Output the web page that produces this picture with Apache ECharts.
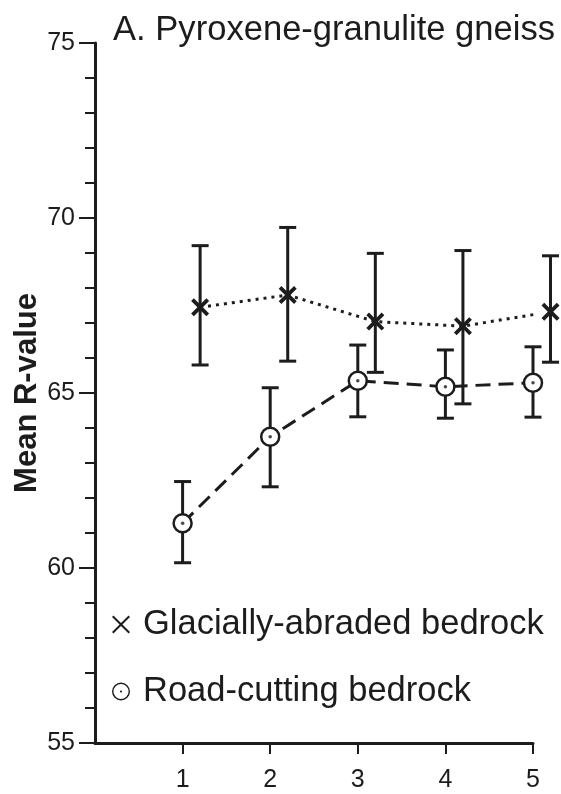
<!DOCTYPE html>
<html>
<head>
<meta charset="utf-8">
<script src="https://cdn.jsdelivr.net/npm/echarts@6/dist/echarts.min.js"></script>
<style>
  html, body { margin: 0; padding: 0; background: #fff; }
  #mainChart { width: 561px; height: 794px; }
</style>
</head>
<body>
<div id="mainChart"></div>
<script>
var legends = ['Glacially-abraded bedrock', 'Road-cutting bedrock'];

// glacially-abraded: plotted slightly right of each site
var glacialX = [1.2, 2.2, 3.2, 4.2, 5.2];
var glacialMean = [67.45, 67.8, 67.04, 66.91, 67.32];
var glacialHigh = [69.21, 69.73, 68.99, 69.07, 68.92];
var glacialLow = [65.8, 65.91, 65.59, 64.69, 65.88];

var roadX = [1, 2, 3, 4, 5];
var roadMean = [61.28, 63.75, 65.35, 65.18, 65.29];
var roadHigh = [62.47, 65.15, 66.37, 66.23, 66.32];
var roadLow = [60.15, 62.32, 64.32, 64.28, 64.31];

var xTicks = [1, 2, 3, 4, 5];

var ink = '#1c1c1c';
var font = '"Liberation Sans", Arial, Helvetica, sans-serif';

var crossPath = 'path://M0,1.5 L1.5,0 L5,3.5 L8.5,0 L10,1.5 L6.5,5 L10,8.5 L8.5,10 L5,6.5 L1.5,10 L0,8.5 L3.5,5 Z';
var crossThin = 'path://M0,0.8 L0.8,0 L5,4.2 L9.2,0 L10,0.8 L5.8,5 L10,9.2 L9.2,10 L5,5.8 L0.8,10 L0,9.2 L4.2,5 Z';
var ringDot = 'path://M0,10 A10,10 0 1,1 20,10 A10,10 0 1,1 0,10 Z M1.6,10 A8.4,8.4 0 1,0 18.4,10 A8.4,8.4 0 1,0 1.6,10 Z M8.8,10 A1.2,1.2 0 1,1 11.2,10 A1.2,1.2 0 1,1 8.8,10 Z';

function pairs(xs, ys) {
    var out = [];
    for (var i = 0; i < xs.length; i++) {
        out.push([xs[i], ys[i]]);
    }
    return out;
}

function bars(xs, lows, highs) {
    var out = [];
    for (var i = 0; i < xs.length; i++) {
        out.push([xs[i], lows[i], highs[i]]);
    }
    return out;
}

function renderErrorBar(params, api) {
    var x = api.value(0);
    var lo = api.coord([x, api.value(1)]);
    var hi = api.coord([x, api.value(2)]);
    var half = 8.5;
    var style = {stroke: ink, lineWidth: 3};
    return {
        type: 'group',
        children: [
            {type: 'line', shape: {x1: hi[0], y1: hi[1], x2: lo[0], y2: lo[1]}, style: style},
            {type: 'line', shape: {x1: hi[0] - half, y1: hi[1], x2: hi[0] + half, y2: hi[1]}, style: style},
            {type: 'line', shape: {x1: lo[0] - half, y1: lo[1], x2: lo[0] + half, y2: lo[1]}, style: style}
        ]
    };
}

var myChart = echarts.init(document.getElementById('mainChart'));

myChart.setOption({
    backgroundColor: '#fff',
    animation: false,
    textStyle: {fontFamily: font},
    title: {
        text: 'A. Pyroxene-granulite gneiss',
        left: 113,
        top: 13,
        padding: 0,
        textStyle: {fontFamily: font, fontSize: 34.6, fontWeight: 'normal', color: ink}
    },
    legend: {
        orient: 'vertical',
        left: 112,
        top: 607,
        padding: 0,
        itemWidth: 18,
        itemHeight: 18,
        itemGap: 32,
        selectedMode: false,
        textStyle: {fontFamily: font, fontSize: 34.5, color: ink, padding: [0, 0, 0, 8]},
        data: [
            {name: legends[0], icon: crossThin, itemStyle: {color: ink, borderWidth: 0}},
            {name: legends[1], icon: ringDot, itemStyle: {color: ink, borderWidth: 0}}
        ]
    },
    grid: {left: 95, right: 28, top: 43, bottom: 51, outerBoundsMode: 'none'},
    xAxis: {
        type: 'value',
        min: 0,
        max: 5,
        interval: 1,
        axisLine: {lineStyle: {color: ink, width: 3}},
        axisTick: {show: true, length: 11, lineStyle: {color: ink, width: 2}, customValues: xTicks},
        axisLabel: {fontSize: 25, color: ink, margin: 25, fontFamily: font, customValues: xTicks},
        splitLine: {show: false}
    },
    yAxis: {
        type: 'value',
        min: 55,
        max: 75,
        interval: 5,
        name: 'Mean R-value',
        nameLocation: 'middle',
        nameGap: 52,
        nameMoveOverlap: false,
        nameTextStyle: {fontFamily: font, fontSize: 31, fontWeight: 'bold', color: ink},
        axisLine: {lineStyle: {color: ink, width: 3}},
        axisTick: {length: 16, lineStyle: {color: ink, width: 2}},
        minorTick: {show: true, splitNumber: 5, length: 10, lineStyle: {color: ink, width: 2}},
        axisLabel: {fontSize: 25, color: ink, margin: 20, fontFamily: font},
        splitLine: {show: false}
    },
    series: [{
        name: 'glacial-err',
        type: 'custom',
        renderItem: renderErrorBar,
        data: bars(glacialX, glacialLow, glacialHigh),
        clip: false,
        z: 1
    }, {
        name: 'road-err',
        type: 'custom',
        renderItem: renderErrorBar,
        data: bars(roadX, roadLow, roadHigh),
        clip: false,
        z: 1
    }, {
        name: legends[0],
        type: 'line',
        data: pairs(glacialX, glacialMean),
        symbol: crossPath,
        symbolSize: 18,
        clip: false,
        lineStyle: {color: ink, width: 3, type: [3, 5]},
        itemStyle: {color: ink},
        z: 3
    }, {
        name: legends[1],
        type: 'line',
        data: pairs(roadX, roadMean),
        symbol: 'circle',
        symbolSize: 18,
        showAllSymbol: true,
        clip: false,
        lineStyle: {color: ink, width: 3, type: [15, 8]},
        itemStyle: {color: '#fff', borderColor: ink, borderWidth: 2.5},
        z: 3
    }, {
        name: 'road-dot',
        type: 'scatter',
        data: pairs(roadX, roadMean),
        symbol: 'circle',
        symbolSize: 3.5,
        clip: false,
        itemStyle: {color: ink},
        silent: true,
        z: 4
    }]
});
</script>
</body>
</html>
